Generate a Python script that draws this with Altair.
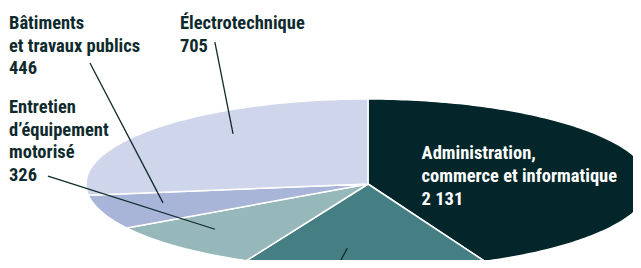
import math
import altair as alt
import pandas as pd

# ---- data ----
categories = [
    "Administration, commerce et informatique",
    "Autres secteurs",
    "Entretien d’équipement motorisé",
    "Bâtiments et travaux publics",
    "Électrotechnique",
]
label_names = [
    "Administration,\ncommerce et informatique",
    "",
    "Entretien\nd’équipement\nmotorisé",
    "Bâtiments\net travaux publics",
    "Électrotechnique",
]
counts = [2131, None, 326, 446, 705]
# share of the pie (percent) as drawn, clockwise from 12 o'clock
shares = [43.2, 13.9, 9.25, 6.55, 27.1]
colors = ["#03262a", "#467f83", "#97b8bb", "#a8b5d9", "#cfd5ea"]

# ---- annotation layout (in the unit-ellipse coordinates of the scales) ----
label_pos = [(0.19, 0.29), None, (-1.273, 0.835), (-1.273, 1.8235), (-0.667, 1.8235)]
leader_end = [None, (-0.145, -1.19), (-1.135, 0.094), (-0.986, 1.4235), (-0.543, 1.67)]
leader_frac = 0.6
leader_r = 0.76

DARK = "#0f2a2d"
FONT = "Liberation Sans Narrow, Roboto Condensed, Arial Narrow, Liberation Sans, sans-serif"

# ---- build slice outlines from the shares ----
rows = []
ann_rules = []
ann_text = []
cum = 0.0
for i, (cat, s) in enumerate(zip(categories, shares)):
    a0 = cum / 100 * 2 * math.pi
    a1 = (cum + s) / 100 * 2 * math.pi
    cum += s
    n = max(4, int(math.ceil(s * 3.6)))
    pts = [(0.0, 0.0)]
    for k in range(n + 1):
        a = a0 + (a1 - a0) * k / n
        pts.append((math.sin(a), math.cos(a)))
    pts.append((0.0, 0.0))
    for k, (u, v) in enumerate(pts):
        rows.append({"cat": cat, "idx": k, "u": u, "v": v})
    if leader_end[i] is not None:
        am = a0 + (a1 - a0) * leader_frac
        ann_rules.append({"cat": cat,
                          "u0": leader_r * math.sin(am), "v0": leader_r * math.cos(am),
                          "u1": leader_end[i][0], "v1": leader_end[i][1]})
    if label_pos[i] is not None:
        num = f"{counts[i]:,}".replace(",", " ")
        ann_text.append({"cat": cat, "label": label_names[i] + "\n" + num,
                         "u": label_pos[i][0], "v": label_pos[i][1],
                         "white": i == 0})

poly = pd.DataFrame(rows)
rules = pd.DataFrame(ann_rules)
texts = pd.DataFrame(ann_text)

xs = alt.Scale(domain=[-1.2766, 0.93972], nice=False, zero=False)
ys = alt.Scale(domain=[-0.89412, 2.07059], nice=False, zero=False)

slices = alt.Chart(poly).mark_line(filled=True, stroke="white", strokeWidth=1.5, strokeJoin="round").encode(
    x=alt.X("u:Q", scale=xs, axis=None),
    y=alt.Y("v:Q", scale=ys, axis=None),
    fill=alt.Fill("cat:N", scale=alt.Scale(domain=categories, range=colors), legend=None),
    detail="cat:N",
    order=alt.Order("idx:Q"),
)

leaders = alt.Chart(rules).mark_rule(color=DARK, strokeWidth=1.3).encode(
    x=alt.X("u0:Q", scale=xs, axis=None),
    y=alt.Y("v0:Q", scale=ys, axis=None),
    x2="u1:Q",
    y2="v1:Q",
)

labels = alt.Chart(texts).mark_text(
    align="left", baseline="alphabetic", lineBreak="\n", font=FONT,
    fontSize=18.5, fontWeight="bold", lineHeight=22.7,
).encode(
    x=alt.X("u:Q", scale=xs, axis=None),
    y=alt.Y("v:Q", scale=ys, axis=None),
    text="label:N",
    color=alt.condition("datum.white", alt.value("white"), alt.value(DARK)),
)

chart = alt.layer(slices, leaders, labels).properties(
    width=625, height=252, padding=0,
    autosize=alt.AutoSizeParams(type="none"),
    background="white",
).configure_view(stroke=None)

chart.save("out.html", embed_options={"renderer": "svg", "actions": False})
